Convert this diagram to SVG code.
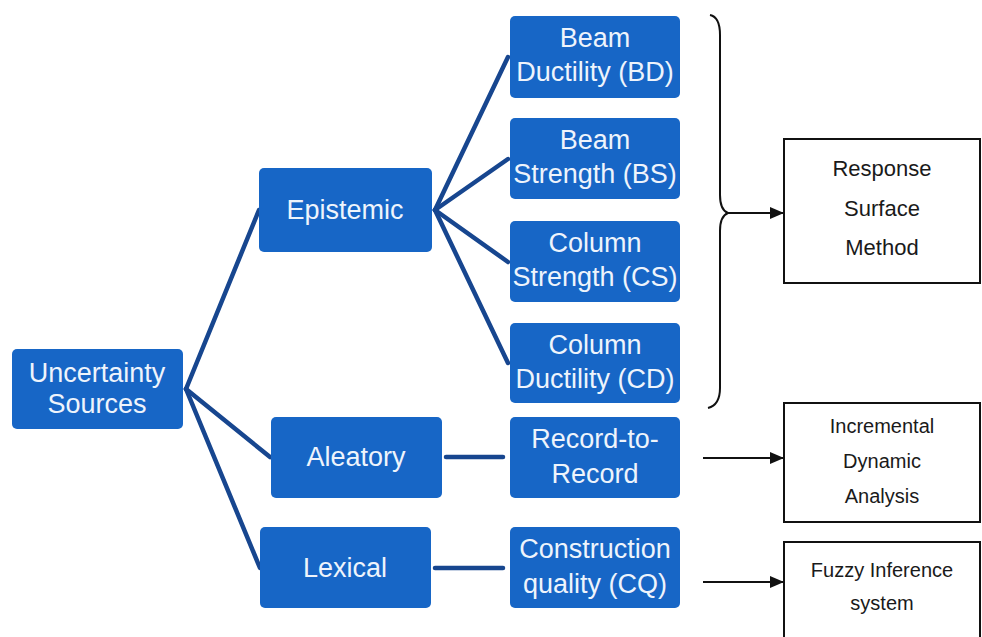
<svg xmlns="http://www.w3.org/2000/svg" width="982" height="637" viewBox="0 0 982 637">
<defs>
<style>
.bx{fill:#1766c6;}
.bt{font-family:"Liberation Sans",Arial,sans-serif;font-size:27px;fill:#eef4fc;text-anchor:middle;}
.wb{fill:#fff;stroke:#111;stroke-width:2;}
.wt{font-family:"Liberation Sans",Arial,sans-serif;fill:#1a1a1a;text-anchor:middle;}
.cn{stroke:#17468f;stroke-width:4.5;fill:none;stroke-linecap:round;}
.ar{stroke:#111;stroke-width:2;fill:none;}
</style>
<marker id="ah" markerWidth="14" markerHeight="12" refX="13" refY="6" orient="auto" markerUnits="userSpaceOnUse" viewBox="0 0 14 12">
<path d="M0,0 L14,6 L0,12 Z" fill="#111"/>
</marker>
</defs>
<rect width="982" height="637" fill="#fff"/>
<g id="connectors">
<line class="cn" x1="186" y1="389" x2="259" y2="210"/>
<line class="cn" x1="186" y1="389" x2="270" y2="457"/>
<line class="cn" x1="186" y1="389" x2="260" y2="568"/>
<line class="cn" x1="435" y1="210" x2="508" y2="57"/>
<line class="cn" x1="435" y1="210" x2="508" y2="159"/>
<line class="cn" x1="435" y1="210" x2="508" y2="262"/>
<line class="cn" x1="435" y1="210" x2="508" y2="363"/>
<line class="cn" x1="446" y1="457" x2="503" y2="457"/>
<line class="cn" x1="435" y1="568" x2="503" y2="568"/>
<path class="ar" d="M710,15 Q720,17 720,35 L720,195 Q720,210 728,213 Q720,216 720,231 L720,388 Q720,405 708,408"/>
<line class="ar" x1="728" y1="213" x2="783" y2="213" marker-end="url(#ah)"/>
<line class="ar" x1="703" y1="458" x2="783" y2="458" marker-end="url(#ah)"/>
<line class="ar" x1="703" y1="582" x2="783" y2="582" marker-end="url(#ah)"/>
</g>
<g id="uncertainty">
<rect class="bx" x="12" y="349" width="171" height="80" rx="5"/>
<text class="bt" x="97" y="382">Uncertainty</text>
<text class="bt" x="97" y="413">Sources</text>
</g>
<g id="epistemic">
<rect class="bx" x="259" y="168" width="173" height="84" rx="5"/>
<text class="bt" x="345" y="219">Epistemic</text>
</g>
<g id="aleatory">
<rect class="bx" x="271" y="417" width="171" height="81" rx="5"/>
<text class="bt" x="356" y="466">Aleatory</text>
</g>
<g id="lexical">
<rect class="bx" x="260" y="527" width="171" height="81" rx="5"/>
<text class="bt" x="345" y="577">Lexical</text>
</g>
<g id="bd">
<rect class="bx" x="510" y="16" width="170" height="82" rx="5"/>
<text class="bt" x="595" y="47">Beam</text>
<text class="bt" x="595" y="81">Ductility (BD)</text>
</g>
<g id="bs">
<rect class="bx" x="510" y="118" width="170" height="81" rx="5"/>
<text class="bt" x="595" y="149">Beam</text>
<text class="bt" x="595" y="183">Strength (BS)</text>
</g>
<g id="cs">
<rect class="bx" x="510" y="221" width="170" height="81" rx="5"/>
<text class="bt" x="595" y="252">Column</text>
<text class="bt" x="595" y="286">Strength (CS)</text>
</g>
<g id="cd">
<rect class="bx" x="510" y="323" width="170" height="80" rx="5"/>
<text class="bt" x="595" y="354">Column</text>
<text class="bt" x="595" y="388">Ductility (CD)</text>
</g>
<g id="rtr">
<rect class="bx" x="510" y="417" width="170" height="81" rx="5"/>
<text class="bt" x="595" y="448">Record-to-</text>
<text class="bt" x="595" y="483">Record</text>
</g>
<g id="cq">
<rect class="bx" x="510" y="527" width="170" height="81" rx="5"/>
<text class="bt" x="595" y="558">Construction</text>
<text class="bt" x="595" y="593">quality  (CQ)</text>
</g>
<g id="rsm">
<rect class="wb" x="784" y="139" width="196" height="144"/>
<text class="wt" x="882" y="176" font-size="22">Response</text>
<text class="wt" x="882" y="216" font-size="22">Surface</text>
<text class="wt" x="882" y="255" font-size="22">Method</text>
</g>
<g id="ida">
<rect class="wb" x="784" y="403" width="196" height="119"/>
<text class="wt" x="882" y="433" font-size="20">Incremental</text>
<text class="wt" x="882" y="468" font-size="20">Dynamic</text>
<text class="wt" x="882" y="503" font-size="20">Analysis</text>
</g>
<g id="fis">
<rect class="wb" x="784" y="542" width="196" height="110"/>
<text class="wt" x="882" y="577" font-size="20">Fuzzy Inference</text>
<text class="wt" x="882" y="610" font-size="20">system</text>
</g>
</svg>
